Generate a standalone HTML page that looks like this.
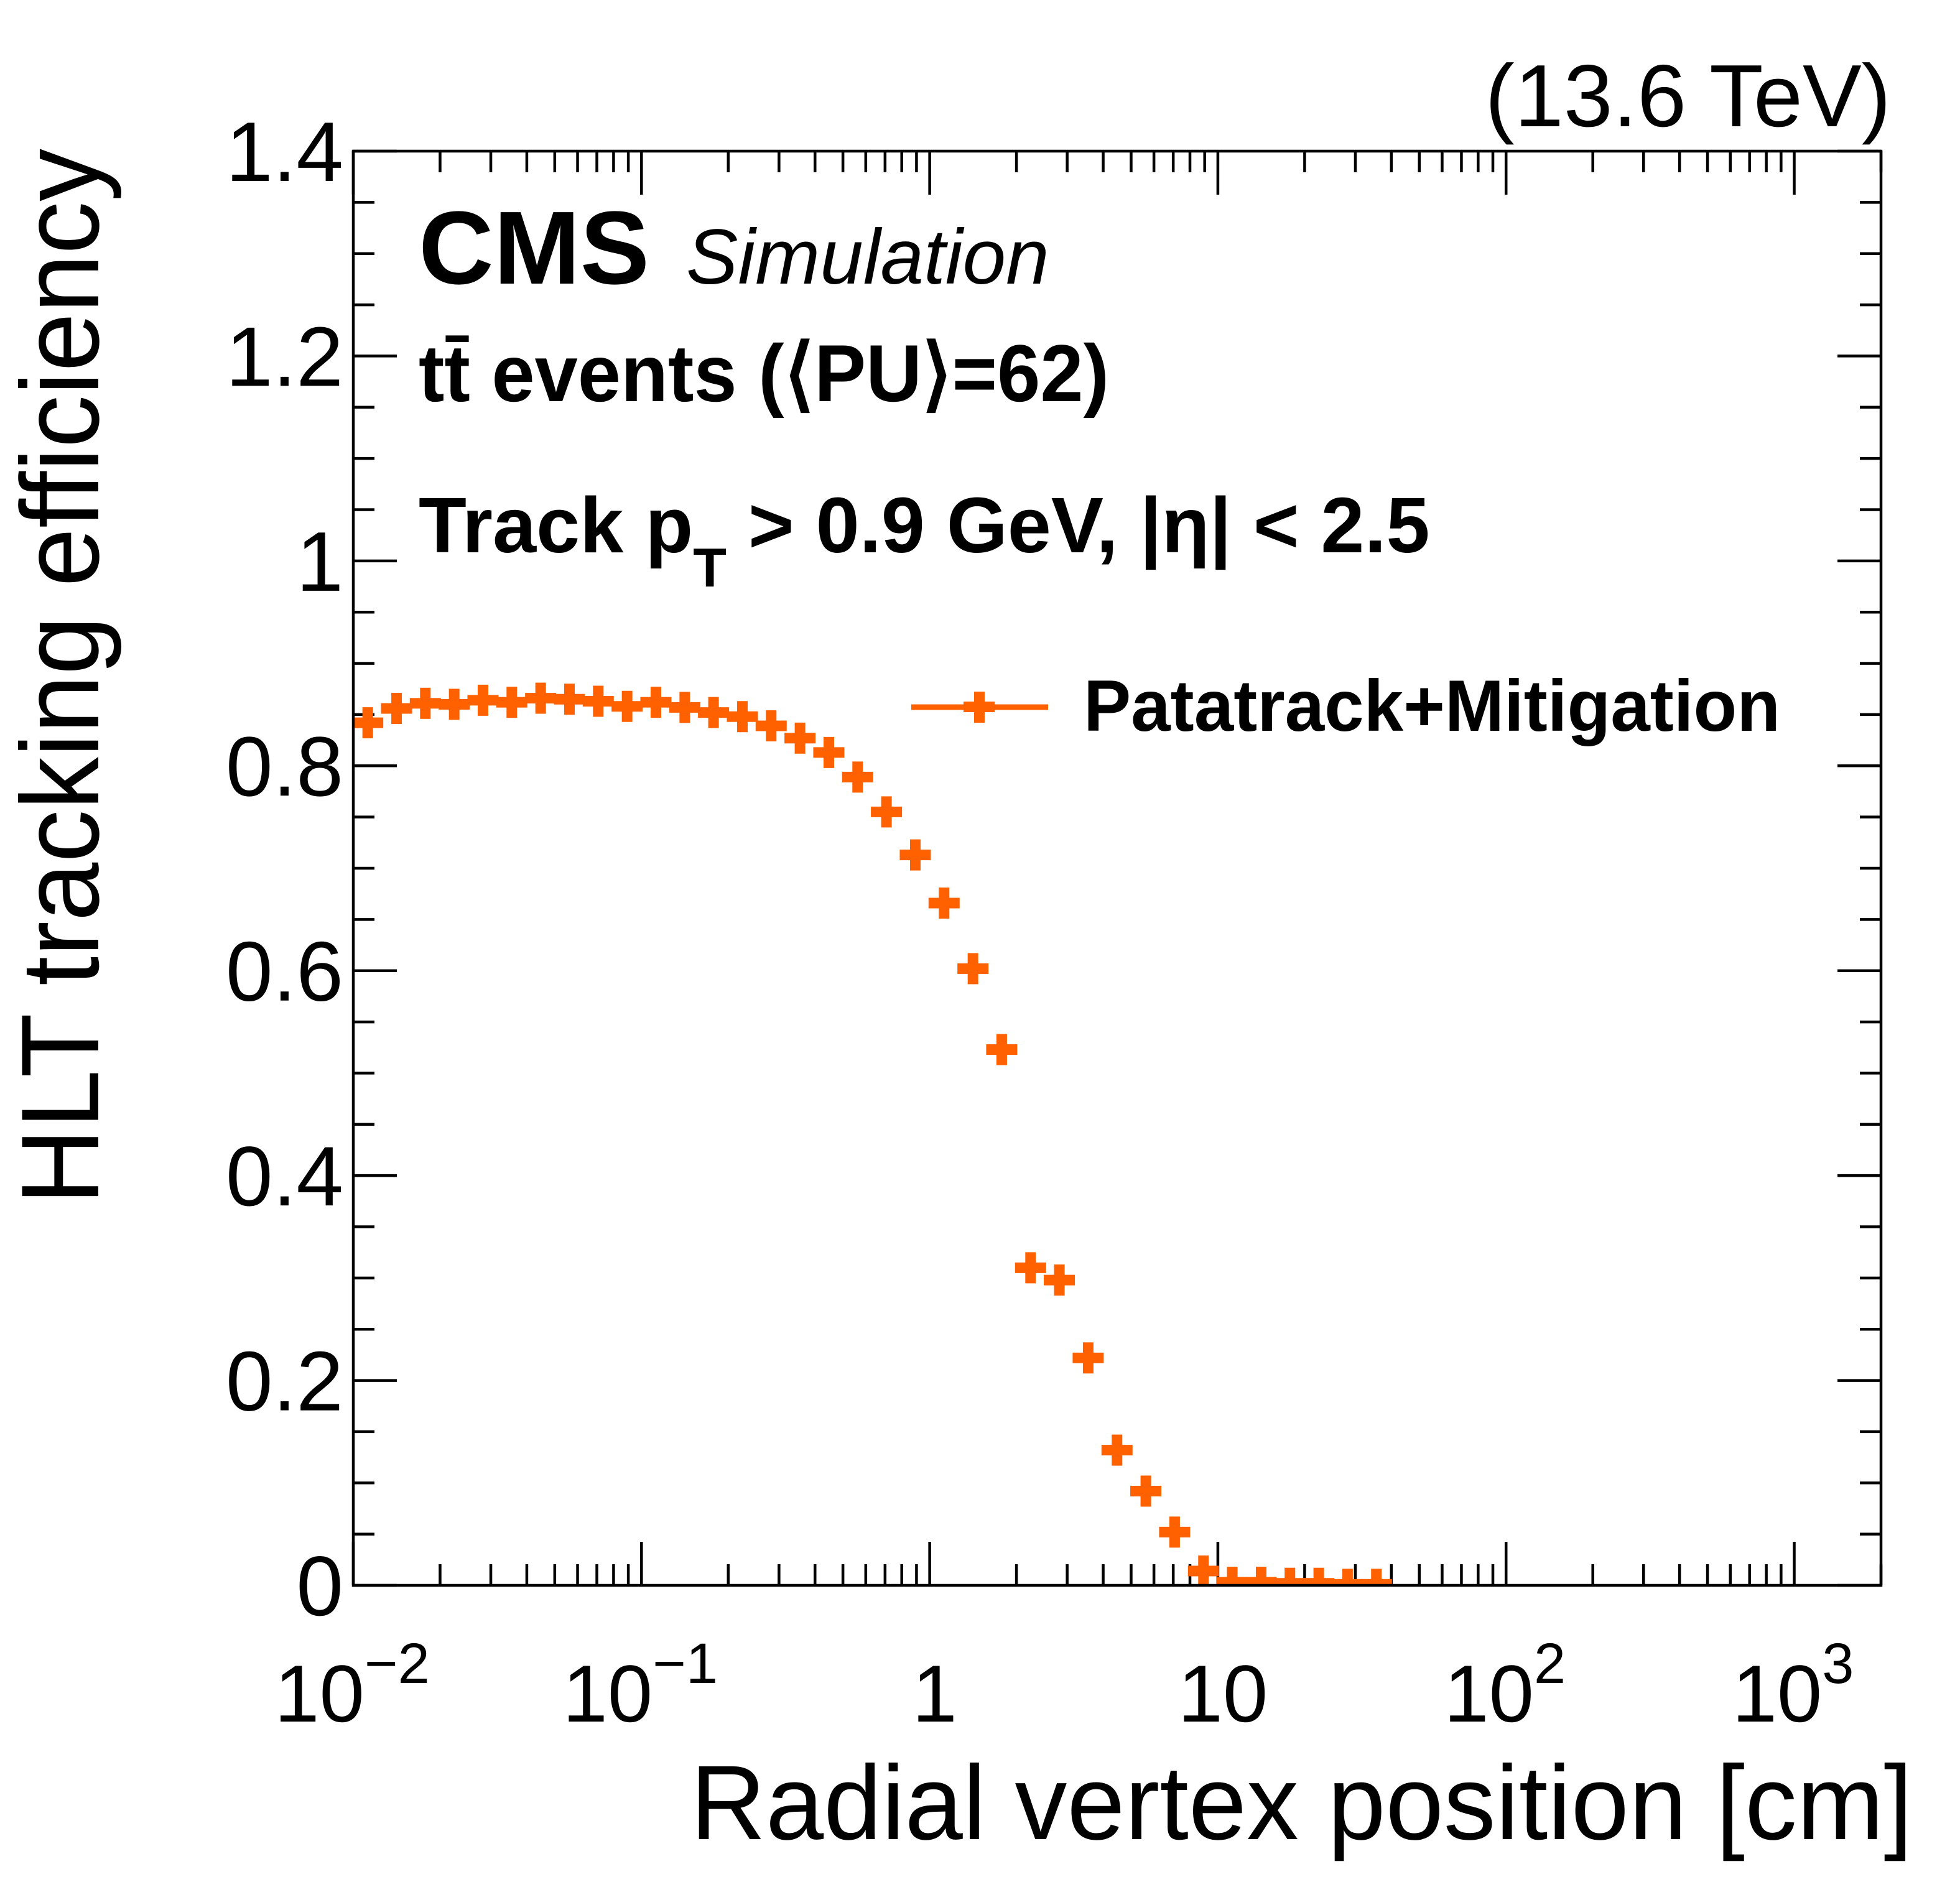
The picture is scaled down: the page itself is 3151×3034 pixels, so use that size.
<!DOCTYPE html>
<html><head><meta charset="utf-8"><style>
html,body{margin:0;padding:0;background:#fff}
svg{display:block}
text{font-family:"Liberation Sans",Helvetica,Arial,sans-serif;fill:#000}
</style></head><body>
<svg id="chart" width="3151" height="3034" viewBox="0 0 3151 3034" xmlns="http://www.w3.org/2000/svg">
<rect x="0" y="0" width="3151" height="3034" fill="#fff"/>
<defs><clipPath id="plotclip"><rect x="568" y="243" width="2456" height="2306"/></clipPath></defs>
<g id="ticks"></g>
<g id="data" clip-path="url(#plotclip)"></g>
<rect x="568" y="243" width="2456" height="2306" fill="none" stroke="#000" stroke-width="4.5"/>
<g id="labels"></g>
<text x="3040" y="203" font-size="142" text-anchor="end">(13.6 TeV)</text>
<text x="673" y="456" font-size="167" font-weight="bold">CMS</text>
<text x="1103" y="456" font-size="125" font-style="italic">Simulation</text>
<text x="673" y="645" font-size="130" font-weight="bold" textLength="1110" lengthAdjust="spacingAndGlyphs">tt̄ events (⟨PU⟩=62)</text>
<text x="673" y="888" font-size="126" font-weight="bold">Track p<tspan font-size="88" dy="55">T</tspan><tspan dy="-55"> &gt; 0.9 GeV, |η| &lt; 2.5</tspan></text>
<g>
<line x1="1465" y1="1137" x2="1685" y2="1137" stroke="#ff6000" stroke-width="9"/>
<rect x="1566" y="1112" width="17" height="50" fill="#ff6000"/>
<rect x="1549" y="1128" width="50" height="17" fill="#ff6000"/>
<text x="1742" y="1175" font-size="117" font-weight="bold" textLength="1120" lengthAdjust="spacingAndGlyphs">Patatrack+Mitigation</text>
</g>
<text transform="translate(158,1937) rotate(-90)" font-size="178" textLength="1698" lengthAdjust="spacingAndGlyphs">HLT tracking efficiency</text>
<text x="3075" y="2957" font-size="170" text-anchor="end" textLength="1965" lengthAdjust="spacingAndGlyphs">Radial vertex position [cm]</text>
</svg>
<script>
const binCenters = [0.01122,0.01413,0.01778,0.02239,0.02818,0.03548,0.04467,0.05623,0.07079,0.08913,0.1122,0.1413,0.1778,0.2239,0.2818,0.3548,0.4467,0.5623,0.7079,0.8913,1.122,1.413,1.778,2.239,2.818,3.548,4.467,5.623,7.079,8.913,11.22,14.13,17.78,22.39,28.18,35.48];
const efficiency = [0.842,0.856,0.861,0.860,0.864,0.862,0.866,0.865,0.863,0.858,0.862,0.857,0.852,0.848,0.839,0.827,0.813,0.789,0.755,0.713,0.666,0.602,0.523,0.310,0.298,0.222,0.132,0.092,0.052,0.014,0.003,0.003,0.002,0.002,0.001,0.001];
const yTickValues = [0,0.2,0.4,0.6,0.8,1,1.2,1.4];
const yTickLabels = ["0","0.2","0.4","0.6","0.8","1","1.2","1.4"];
const xDecades = [-2,-1,0,1,2,3];
const xTickBase = ["10","10","1","10","10","10"];
const xTickExp = ["−2","−1","","","2","3"];

const L=568,R=3024,T=243,B=2549;
const XMIN=Math.log10(0.01), XMAX=Math.log10(2000), YMIN=0, YMAX=1.4;
const NS='http://www.w3.org/2000/svg';
function xs(v){return L+(Math.log10(v)-XMIN)/(XMAX-XMIN)*(R-L);}
function ys(v){return B-(v-YMIN)/(YMAX-YMIN)*(B-T);}
function mk(tag,attrs,parent){const e=document.createElementNS(NS,tag);for(const k in attrs)e.setAttribute(k,attrs[k]);parent.appendChild(e);return e;}

const tg=document.getElementById('ticks');
const lg=document.getElementById('labels');
for(let v=0;v<=1.4001;v+=0.05){
  const major=Math.abs(v/0.2-Math.round(v/0.2))<1e-6;
  const len=major?70:34, y=ys(v);
  const a=mk('line',{x1:L,y1:y,x2:L+len,y2:y,stroke:'#000','stroke-width':4.5},tg);
  
  
  const b=mk('line',{x1:R,y1:y,x2:R-len,y2:y,stroke:'#000','stroke-width':4.5},tg);
  
  
}
yTickValues.forEach((v,i)=>{
  const t=mk('text',{x:552,y:ys(v)+48,'font-size':136,'text-anchor':'end'},lg);
  t.textContent=yTickLabels[i];
  
  
});
for(let d=-2;d<=3;d++){
  for(let m=1;m<=9;m++){
    const v=m*Math.pow(10,d); if(v>2000) break;
    const x=xs(v), len=(m===1)?70:34;
    const a=mk('line',{x1:x,y1:B,x2:x,y2:B-len,stroke:'#000','stroke-width':4.5},tg);
    
    
    const b=mk('line',{x1:x,y1:T,x2:x,y2:T+len,stroke:'#000','stroke-width':4.5},tg);
    
    
  }
}
xDecades.forEach((d,i)=>{
  const x=xs(Math.pow(10,d));
  const t=mk('text',{x:x,y:2768,'font-size':130,'text-anchor':'middle'},lg);
  
  
  if(xTickExp[i]){
    t.setAttribute('x',x-2);
    const b=mk('tspan',{},t); b.textContent=xTickBase[i];
    const s=mk('tspan',{'font-size':92,dy:-62},t); s.textContent=xTickExp[i];
  } else {
    t.setAttribute('x',x+8);
    t.textContent=xTickBase[i];
  }
});
const dg=document.getElementById('data');
const C='#ff6000';
binCenters.forEach((xc,i)=>{
  const cx=xs(xc), cy=ys(efficiency[i]);
  const x1=xs(xc/Math.pow(10,0.05)), x2=xs(xc*Math.pow(10,0.05));
  const g=mk('g',{},dg);
  
  
  const h=mk('rect',{x:Math.min(x1,cx-25),y:cy-8.5,width:Math.max(x2-x1,50),height:17,fill:C},g);
  
  
  const v=mk('rect',{x:cx-8.5,y:cy-25,width:17,height:50,fill:C},g);
  
  
});
</script>
</body></html>
